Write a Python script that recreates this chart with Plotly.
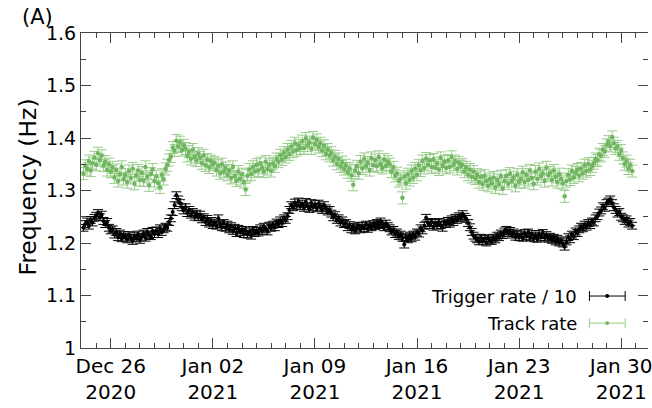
import plotly.graph_objects as go
import pandas as pd

# ---- data (3-hourly samples starting 2020-12-24 03:00) ----
start_time = "2020-12-24 03:00"
sample_step = "3h"

trigger_rate_div10 = [
    1.229, 1.236, 1.241, 1.233, 1.244, 1.239, 1.248, 1.252,  # Dec 24
    1.257, 1.249, 1.254, 1.242, 1.236, 1.240, 1.229, 1.224,  # Dec 25
    1.226, 1.216, 1.221, 1.211, 1.218, 1.209, 1.215, 1.212,  # Dec 26
    1.207, 1.215, 1.210, 1.204, 1.213, 1.209, 1.216, 1.206,  # Dec 27
    1.212, 1.218, 1.210, 1.221, 1.215, 1.213, 1.223, 1.217,  # Dec 28
    1.224, 1.217, 1.228, 1.221, 1.226, 1.231, 1.229, 1.240,  # Dec 29
    1.247, 1.259, 1.272, 1.291, 1.283, 1.276, 1.268, 1.262,  # Dec 30
    1.268, 1.257, 1.263, 1.254, 1.259, 1.250, 1.256, 1.249,  # Dec 31
    1.254, 1.245, 1.249, 1.240, 1.246, 1.237, 1.242, 1.234,  # Jan 01
    1.239, 1.233, 1.247, 1.236, 1.230, 1.238, 1.229, 1.235,  # Jan 02
    1.226, 1.232, 1.223, 1.229, 1.219, 1.227, 1.221, 1.225,  # Jan 03
    1.217, 1.224, 1.216, 1.222, 1.214, 1.225, 1.219, 1.223,  # Jan 04
    1.220, 1.228, 1.223, 1.231, 1.226, 1.222, 1.233, 1.229,  # Jan 05
    1.235, 1.230, 1.239, 1.236, 1.243, 1.238, 1.247, 1.244,  # Jan 06
    1.251, 1.263, 1.272, 1.268, 1.277, 1.271, 1.279, 1.270,  # Jan 07
    1.275, 1.267, 1.278, 1.270, 1.265, 1.276, 1.268, 1.274,  # Jan 08
    1.266, 1.275, 1.269, 1.263, 1.272, 1.266, 1.260, 1.263,  # Jan 09
    1.256, 1.249, 1.253, 1.244, 1.247, 1.239, 1.243, 1.236,  # Jan 10
    1.238, 1.230, 1.234, 1.226, 1.231, 1.224, 1.229, 1.233,  # Jan 11
    1.226, 1.232, 1.228, 1.235, 1.227, 1.233, 1.230, 1.236,  # Jan 12
    1.232, 1.238, 1.234, 1.241, 1.236, 1.230, 1.237, 1.232,  # Jan 13
    1.228, 1.222, 1.225, 1.217, 1.220, 1.213, 1.216, 1.210,  # Jan 14
    1.197, 1.211, 1.207, 1.214, 1.209, 1.216, 1.212, 1.220,  # Jan 15
    1.218, 1.228, 1.224, 1.233, 1.248, 1.238, 1.234, 1.240,  # Jan 16
    1.231, 1.238, 1.233, 1.240, 1.234, 1.229, 1.239, 1.236,  # Jan 17
    1.242, 1.237, 1.245, 1.240, 1.248, 1.244, 1.251, 1.247,  # Jan 18
    1.255, 1.250, 1.246, 1.238, 1.230, 1.221, 1.214, 1.210,  # Jan 19
    1.207, 1.203, 1.210, 1.204, 1.208, 1.201, 1.209, 1.205,  # Jan 20
    1.204, 1.210, 1.207, 1.214, 1.211, 1.218, 1.215, 1.222,  # Jan 21
    1.225, 1.219, 1.223, 1.216, 1.220, 1.212, 1.217, 1.211,  # Jan 22
    1.216, 1.210, 1.219, 1.213, 1.220, 1.211, 1.217, 1.209,  # Jan 23
    1.214, 1.208, 1.217, 1.211, 1.219, 1.210, 1.215, 1.208,  # Jan 24
    1.212, 1.206, 1.210, 1.203, 1.208, 1.201, 1.205, 1.199,  # Jan 25
    1.193, 1.203, 1.211, 1.207, 1.216, 1.213, 1.222, 1.219,  # Jan 26
    1.226, 1.231, 1.228, 1.235, 1.231, 1.238, 1.234, 1.241,  # Jan 27
    1.239, 1.247, 1.251, 1.258, 1.262, 1.270, 1.267, 1.276,  # Jan 28
    1.279, 1.283, 1.276, 1.268, 1.263, 1.256, 1.259, 1.250,  # Jan 29
    1.247, 1.242, 1.245, 1.237, 1.240, 1.233,                # Jan 30
]

track_rate = [
    1.332, 1.347, 1.341, 1.356, 1.338, 1.352, 1.363, 1.349,  # Dec 24
    1.371, 1.358, 1.366, 1.348, 1.355, 1.339, 1.350, 1.336,  # Dec 25
    1.344, 1.325, 1.339, 1.318, 1.331, 1.345, 1.322, 1.330,  # Dec 26
    1.316, 1.337, 1.324, 1.342, 1.313, 1.329, 1.338, 1.320,  # Dec 27
    1.334, 1.319, 1.345, 1.326, 1.310, 1.332, 1.340, 1.318,  # Dec 28
    1.327, 1.314, 1.306, 1.330, 1.322, 1.341, 1.348, 1.358,  # Dec 29
    1.365, 1.382, 1.376, 1.395, 1.384, 1.392, 1.377, 1.386,  # Dec 30
    1.380, 1.366, 1.374, 1.360, 1.378, 1.364, 1.357, 1.370,  # Dec 31
    1.363, 1.352, 1.367, 1.348, 1.359, 1.344, 1.356, 1.350,  # Jan 01
    1.353, 1.339, 1.347, 1.333, 1.350, 1.336, 1.343, 1.330,  # Jan 02
    1.338, 1.324, 1.345, 1.327, 1.319, 1.336, 1.322, 1.331,  # Jan 03
    1.316, 1.302, 1.328, 1.340, 1.331, 1.345, 1.336, 1.349,  # Jan 04
    1.338, 1.352, 1.343, 1.336, 1.355, 1.341, 1.349, 1.337,  # Jan 05
    1.352, 1.346, 1.360, 1.355, 1.367, 1.359, 1.372, 1.364,  # Jan 06
    1.378, 1.369, 1.384, 1.374, 1.390, 1.377, 1.386, 1.380,  # Jan 07
    1.394, 1.381, 1.399, 1.386, 1.392, 1.380, 1.401, 1.388,  # Jan 08
    1.396, 1.383, 1.390, 1.376, 1.385, 1.370, 1.378, 1.366,  # Jan 09
    1.372, 1.358, 1.365, 1.351, 1.360, 1.346, 1.354, 1.341,  # Jan 10
    1.348, 1.335, 1.342, 1.329, 1.311, 1.338, 1.346, 1.333,  # Jan 11
    1.355, 1.342, 1.360, 1.346, 1.353, 1.339, 1.362, 1.348,  # Jan 12
    1.358, 1.346, 1.364, 1.350, 1.343, 1.359, 1.347, 1.355,  # Jan 13
    1.350, 1.336, 1.344, 1.328, 1.333, 1.318, 1.322, 1.286,  # Jan 14
    1.326, 1.314, 1.331, 1.320, 1.337, 1.325, 1.342, 1.330,  # Jan 15
    1.348, 1.338, 1.356, 1.343, 1.361, 1.349, 1.357, 1.345,  # Jan 16
    1.359, 1.344, 1.352, 1.340, 1.362, 1.347, 1.355, 1.343,  # Jan 17
    1.357, 1.345, 1.364, 1.349, 1.356, 1.341, 1.353, 1.346,  # Jan 18
    1.349, 1.336, 1.344, 1.330, 1.340, 1.326, 1.336, 1.323,  # Jan 19
    1.330, 1.316, 1.326, 1.312, 1.328, 1.318, 1.309, 1.322,  # Jan 20
    1.314, 1.325, 1.306, 1.320, 1.312, 1.327, 1.304, 1.318,  # Jan 21
    1.328, 1.313, 1.332, 1.318, 1.325, 1.309, 1.330, 1.316,  # Jan 22
    1.322, 1.335, 1.316, 1.330, 1.320, 1.338, 1.324, 1.313,  # Jan 23
    1.336, 1.322, 1.341, 1.327, 1.333, 1.318, 1.344, 1.329,  # Jan 24
    1.334, 1.320, 1.338, 1.326, 1.316, 1.331, 1.322, 1.314,  # Jan 25
    1.289, 1.318, 1.330, 1.321, 1.337, 1.325, 1.334, 1.340,  # Jan 26
    1.328, 1.342, 1.333, 1.348, 1.337, 1.351, 1.340, 1.346,  # Jan 27
    1.352, 1.360, 1.357, 1.369, 1.366, 1.378, 1.374, 1.387,  # Jan 28
    1.393, 1.385, 1.402, 1.390, 1.380, 1.384, 1.369, 1.376,  # Jan 29
    1.362, 1.350, 1.356, 1.342, 1.348, 1.337,                # Jan 30
]

trigger_err = 0.0065
track_err = 0.0115

legend_labels = ["Trigger rate / 10", "Track rate"]
y_title = "Frequency (Hz)"
panel_label = "(A)"

times = pd.date_range(start_time, periods=len(trigger_rate_div10), freq=sample_step)

BLACK = "#000000"
GREEN_M = "#70b660"
GREEN_E = "#98cc8a"
AXIS = "#444444"
FONT = "DejaVu Sans"

fig = go.Figure()
fig.add_trace(go.Scatter(
    x=times, y=trigger_rate_div10, mode="markers", name=legend_labels[0],
    marker=dict(color=BLACK, size=4),
    error_y=dict(type="constant", value=trigger_err, color=BLACK, thickness=1, width=5),
))
fig.add_trace(go.Scatter(
    x=times, y=track_rate, mode="markers", name=legend_labels[1], yaxis="y2",
    marker=dict(color=GREEN_M, size=4.5),
    error_y=dict(type="constant", value=track_err, color=GREEN_E, thickness=1, width=5),
))

yr = [1.0, 1.6]
fig.update_layout(
    width=652, height=408,
    margin=dict(l=81, r=0, t=33, b=60),
    paper_bgcolor="white", plot_bgcolor="white",
    showlegend=False,
    font=dict(family=FONT, color="black"),
    xaxis=dict(
        type="date",
        range=["2020-12-23 23:01", "2021-01-31 20:10"],
        tick0="2020-12-26", dtick=7 * 86400000,
        tickformat="%b %d<br>%Y",
        ticklabeloverflow="allow",
        ticks="inside", ticklen=10, tickcolor=AXIS, tickwidth=1,
        showline=True, linecolor=AXIS, linewidth=1, mirror="ticks",
        showgrid=False, zeroline=False,
        tickfont=dict(size=20, family=FONT),
        minor=dict(dtick=86400000, ticks="inside", ticklen=5, tickcolor=AXIS, showgrid=False),
    ),
    yaxis=dict(
        range=yr, tick0=1.0, dtick=0.1,
        ticks="inside", ticklen=10, tickcolor=AXIS,
        showline=True, linecolor=AXIS, linewidth=1, mirror=False,
        showgrid=False, zeroline=False,
        tickfont=dict(size=19, family=FONT),
        minor=dict(dtick=0.05, ticks="inside", ticklen=5, tickcolor=AXIS, showgrid=False),
    ),
    yaxis2=dict(
        range=yr, tick0=1.0, dtick=0.1, overlaying="y", side="right", anchor="x",
        ticks="inside", ticklen=10, tickcolor=AXIS,
        showline=False, showticklabels=False, showgrid=False, zeroline=False,
        minor=dict(dtick=0.05, ticks="inside", ticklen=5, tickcolor=AXIS, showgrid=False),
    ),
)

# axis title and panel label
fig.add_annotation(text=y_title, xref="paper", yref="paper", x=-0.093, y=0.51,
                   textangle=-90, showarrow=False, font=dict(size=23.5, family=FONT),
                   xanchor="center", yanchor="middle")
fig.add_annotation(text=panel_label, xref="paper", yref="paper", x=-0.077, y=1.05,
                   showarrow=False, font=dict(size=21, family=FONT),
                   xanchor="center", yanchor="middle")

# custom legend (text then error-bar glyph)
leg_y = [0.165, 0.079]
leg_cols = [(BLACK, BLACK), (GREEN_M, GREEN_E)]
tx = 0.879
gx0, gx1, gxm = 0.8967, 0.9597, 0.928
cap = 0.016
for lab, ly, (mc, ec) in zip(legend_labels, leg_y, leg_cols):
    fig.add_annotation(text=lab, xref="paper", yref="paper", x=tx, y=ly,
                       showarrow=False, xanchor="right", yanchor="middle",
                       font=dict(size=18, family=FONT))
    fig.add_shape(type="line", xref="paper", yref="paper", x0=gx0, x1=gx1, y0=ly, y1=ly,
                  line=dict(color=ec, width=1))
    for cx in (gx0, gx1):
        fig.add_shape(type="line", xref="paper", yref="paper", x0=cx, x1=cx,
                      y0=ly - cap, y1=ly + cap, line=dict(color=ec, width=1))
    fig.add_shape(type="circle", xref="paper", yref="paper",
                  x0=gxm - 0.0035, x1=gxm + 0.0035, y0=ly - 0.0063, y1=ly + 0.0063,
                  fillcolor=mc, line=dict(color=mc, width=0))

fig.write_html("out.html")
